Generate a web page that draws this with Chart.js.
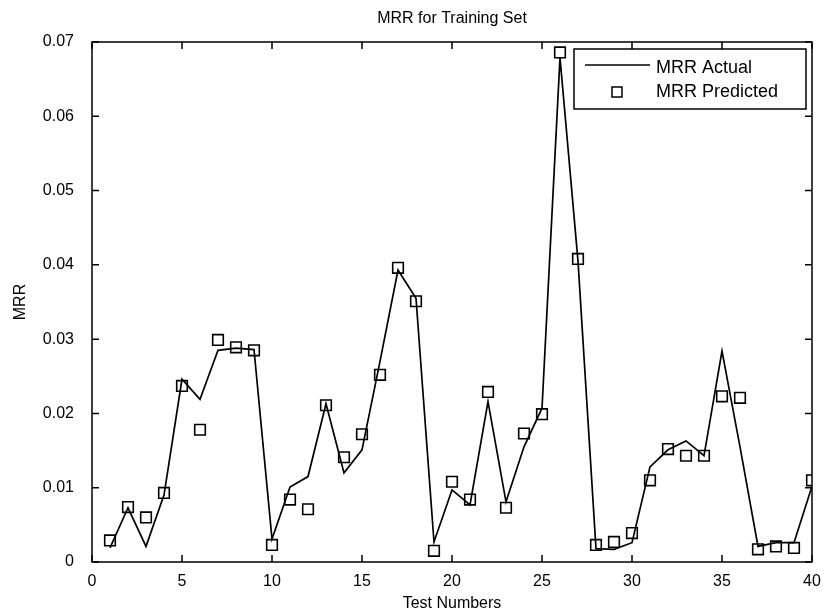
<!DOCTYPE html>
<html>
<head>
<meta charset="utf-8">
<script src="https://cdn.jsdelivr.net/npm/chart.js@4/dist/chart.umd.min.js"></script>
<style>
html,body{margin:0;padding:0;background:#fff}
#wrap{width:824px;height:613px}
</style>
</head>
<body>
<div id="wrap"><canvas id="c" width="824" height="613"></canvas></div>
<script>
const testNumbers=[1,2,3,4,5,6,7,8,9,10,11,12,13,14,15,16,17,18,19,20,21,22,23,24,25,26,27,28,29,30,31,32,33,34,35,36,37,38,39,40]

const mrrActual=[0.0019,0.0073,0.0021,0.0090,0.0246,0.0219,0.0285,0.0288,0.0286,0.0031,
0.0101,0.0115,0.0213,0.0120,0.0151,0.0270,0.0393,0.0355,0.0027,0.0097,
0.0077,0.0216,0.0081,0.0155,0.0207,0.0679,0.0405,0.0018,0.0017,0.0026,
0.0128,0.0151,0.0163,0.0143,0.0284,0.0155,0.0021,0.0026,0.0026,0.0102]

const mrrPredicted=[0.0029,0.0074,0.0060,0.0093,0.0237,0.0178,0.0299,0.0289,0.0285,0.0023,
0.0084,0.0071,0.0211,0.0141,0.0172,0.0252,0.0396,0.0351,0.0015,0.0108,
0.0084,0.0229,0.0073,0.0173,0.0199,0.0686,0.0408,0.0023,0.0027,0.0039,
0.0110,0.0152,0.0143,0.0143,0.0223,0.0221,0.0017,0.0021,0.0019,0.0110]

const xTicks=[0,5,10,15,20,25,30,35,40]
const yTicks=[0,0.01,0.02,0.03,0.04,0.05,0.06,0.07]

const FONT="'Liberation Sans', Arial, sans-serif"

// box round the plot with inward ticks, title and legend (matlab look)
const boxPlugin={
id:"box",
afterDraw(chart){
const ctx=chart.ctx
const a=chart.chartArea
const xs=chart.scales.x
const ys=chart.scales.y
ctx.save()
ctx.strokeStyle="#000"
ctx.lineWidth=1.5
ctx.strokeRect(a.left,a.top,a.right-a.left,a.bottom-a.top)
ctx.beginPath()
xTicks.forEach(v=>{
const px=xs.getPixelForValue(v)
ctx.moveTo(px,a.bottom);ctx.lineTo(px,a.bottom-7)
ctx.moveTo(px,a.top);ctx.lineTo(px,a.top+7)
})
yTicks.forEach(v=>{
const py=ys.getPixelForValue(v)
ctx.moveTo(a.left,py);ctx.lineTo(a.left+7,py)
ctx.moveTo(a.right,py);ctx.lineTo(a.right-7,py)
})
ctx.stroke()

ctx.fillStyle="#000"
ctx.font="16px "+FONT
ctx.textAlign="center"
ctx.textBaseline="middle"
ctx.fillText("MRR for Training Set",(a.left+a.right)/2,19)

// legend
const lx=574,ly=49,lw=232,lh=60
ctx.fillStyle="#fff"
ctx.fillRect(lx,ly,lw,lh)
ctx.lineWidth=1.5
ctx.strokeRect(lx,ly,lw,lh)
ctx.beginPath()
ctx.moveTo(585,65);ctx.lineTo(650,65)
ctx.stroke()
ctx.strokeRect(612,87,10,10)
ctx.fillStyle="#000"
ctx.font="18px "+FONT
ctx.textAlign="left"
ctx.fillText("MRR Actual",656,68)
ctx.fillText("MRR Predicted",656,92)
ctx.restore()
}
}

new Chart(document.getElementById("c"),{
type:"scatter",
data:{
datasets:[
{
label:"MRR Actual",
data:testNumbers.map((t,i)=>({x:t,y:mrrActual[i]})),
showLine:true,
borderColor:"#000",
borderWidth:1.7,
pointRadius:0,
tension:0
},
{
label:"MRR Predicted",
data:testNumbers.map((t,i)=>({x:t,y:mrrPredicted[i]})),
showLine:false,
pointStyle:"rect",
pointRadius:7.5,
borderColor:"#000",
borderWidth:1.6,
backgroundColor:"rgba(0,0,0,0)"
}
]
},
options:{
responsive:false,
animation:false,
layout:{padding:{left:0,top:42,right:12,bottom:0}},
plugins:{legend:{display:false},tooltip:{enabled:false}},
scales:{
x:{
type:"linear",min:0,max:40,
afterFit(s){s.height=51},
afterBuildTicks(s){s.ticks=xTicks.map(v=>({value:v}))},
grid:{display:false},
border:{display:false},
ticks:{color:"#000",font:{family:FONT,size:16},padding:2,maxRotation:0},
title:{display:true,text:"Test Numbers",color:"#000",font:{family:FONT,size:16},padding:{top:0,bottom:0}}
},
y:{
min:0,max:0.07,
afterFit(s){s.width=92},
afterBuildTicks(s){s.ticks=yTicks.map(v=>({value:v}))},
grid:{display:false},
border:{display:false},
ticks:{color:"#000",font:{family:FONT,size:16},padding:10,
callback:v=>v===0?"0":v.toFixed(2)},
title:{display:true,text:"MRR",color:"#000",font:{family:FONT,size:16},padding:{top:11,bottom:0}}
}
}
},
plugins:[boxPlugin]
})
</script>
</body>
</html>
